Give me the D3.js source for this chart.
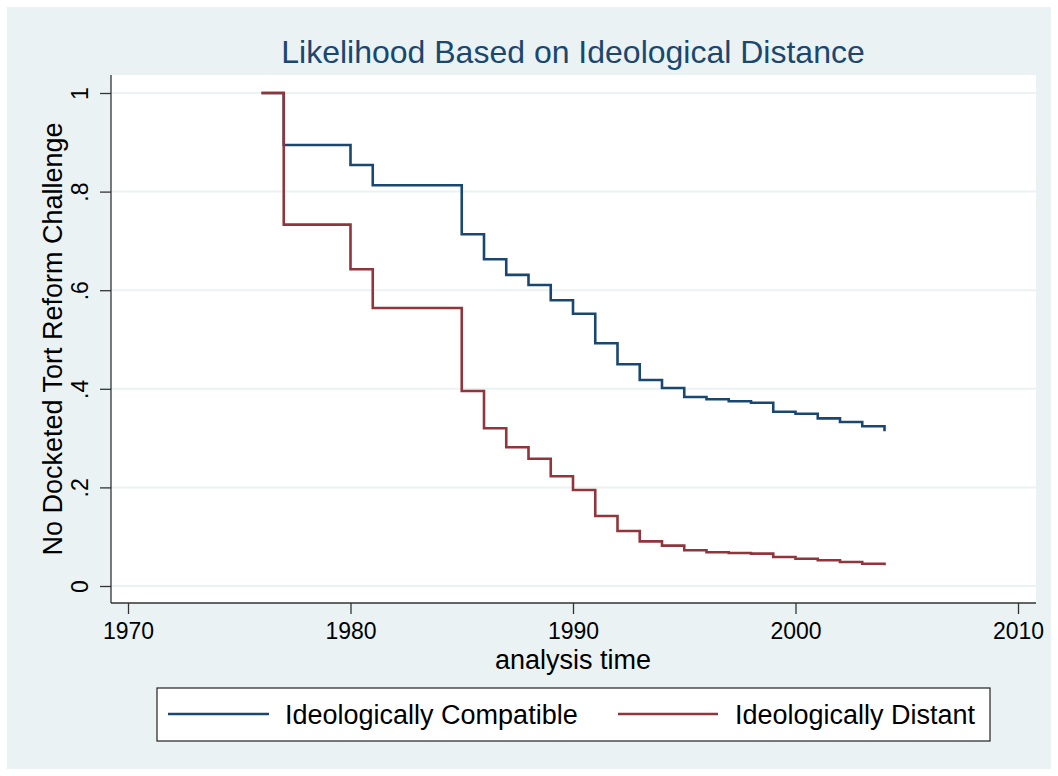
<!DOCTYPE html>
<html><head><meta charset="utf-8">
<script src="https://cdn.jsdelivr.net/npm/d3@7"></script>
<style>body{margin:0;background:#fff}svg{display:block;font-family:"Liberation Sans",Arial,sans-serif}</style>
</head><body><svg id="c" width="1058" height="776"></svg>
<script>
const years = [1976,1977,1980,1981,1985,1986,1987,1988,1989,1990,1991,1992,1993,1994,1995,1996,1997,1998,1999,2000,2001,2002,2003,2004];
const compatible = [1,0.8945,0.854,0.8128,0.7134,0.6627,0.631,0.6105,0.5795,0.5523,0.4923,0.4497,0.4178,0.4016,0.3834,0.3787,0.3746,0.3718,0.3536,0.3495,0.340,0.3327,0.324,0.3138];
const distant = [1,0.733,0.6424,0.564,0.3955,0.3199,0.2813,0.258,0.2225,0.1947,0.142,0.1116,0.0906,0.0818,0.0724,0.0684,0.0669,0.0656,0.0588,0.0554,0.0521,0.0487,0.0452,0.042];
const xTicks = [1970,1980,1990,2000,2010];
const yTicks = [0,0.2,0.4,0.6,0.8,1];
const yTickLabels = ["0",".2",".4",".6",".8","1"];
const seriesNames = ["Ideologically Compatible","Ideologically Distant"];
const colors = ["#1a476f","#90353b"];

const svg = d3.select("#c");
svg.append("rect").attr("x",7).attr("y",7).attr("width",1044).attr("height",762).attr("fill","#eaf2f3");
const plot = {l:111,t:75,r:1036,b:603};
svg.append("rect").attr("x",plot.l).attr("y",plot.t).attr("width",plot.r-plot.l).attr("height",plot.b-plot.t).attr("fill","#fff");

const x = d3.scaleLinear().domain([1970,2010]).range([128,1018]);
const y = d3.scaleLinear().domain([0,1]).range([586,93]);

svg.append("g").selectAll("line").data(yTicks).join("line")
  .attr("x1",plot.l).attr("x2",plot.r).attr("y1",d=>y(d)).attr("y2",d=>y(d))
  .attr("stroke","#eaf2f3").attr("stroke-width",2);

const line = d3.line().x(d=>x(d[0])).y(d=>y(d[1])).curve(d3.curveStepAfter);
[compatible,distant].forEach((s,i)=>{
  svg.append("path").datum(years.map((yr,j)=>[yr,s[j]]))
    .attr("d",line).attr("fill","none").attr("stroke",colors[i]).attr("stroke-width",2.6);
});

const yAxis = d3.axisLeft(y).tickValues(yTicks).tickSize(11).tickPadding(8).tickFormat((d,i)=>yTickLabels[i]);
const gy = svg.append("g").attr("transform",`translate(${plot.l},0)`).call(yAxis);
gy.select(".domain").attr("d",`M0,${plot.t}V${plot.b}`).attr("stroke","#333").attr("stroke-width",1.3);
gy.selectAll(".tick line").attr("stroke","#333").attr("stroke-width",1.3);
gy.selectAll(".tick text").attr("font-size",23).attr("fill","#000")
  .attr("text-anchor","middle").attr("dy","0")
  .attr("transform","translate(-31,0) rotate(-90)").attr("x",0).attr("y",8);

const xAxis = d3.axisBottom(x).tickValues(xTicks).tickSize(11).tickPadding(8).tickFormat(d3.format("d"));
const gx = svg.append("g").attr("transform",`translate(0,${plot.b})`).call(xAxis);
gx.select(".domain").attr("d",`M${plot.l},0H${plot.r}`).attr("stroke","#333").attr("stroke-width",1.3);
gx.selectAll(".tick line").attr("stroke","#333").attr("stroke-width",1.3);
gx.selectAll(".tick text").attr("font-size",23).attr("fill","#000").attr("y",20);

svg.append("text").attr("x",573).attr("y",63).attr("text-anchor","middle").attr("font-size",32)
  .attr("fill","#1a476f").text("Likelihood Based on Ideological Distance");
svg.append("text").attr("x",573).attr("y",669).attr("text-anchor","middle").attr("font-size",27)
  .attr("fill","#000").text("analysis time");
svg.append("text").attr("transform","translate(62,339) rotate(-90)").attr("text-anchor","middle")
  .attr("font-size",27).attr("fill","#000").text("No Docketed Tort Reform Challenge");

svg.append("rect").attr("x",157).attr("y",688).attr("width",833).attr("height",53)
  .attr("fill","#fff").attr("stroke","#222").attr("stroke-width",1.2);
const legX = [[168,269,285],[618,718,735]];
seriesNames.forEach((n,i)=>{
  svg.append("line").attr("x1",legX[i][0]).attr("x2",legX[i][1]).attr("y1",714).attr("y2",714)
    .attr("stroke",colors[i]).attr("stroke-width",2.6);
  svg.append("text").attr("x",legX[i][2]).attr("y",724).attr("font-size",27).attr("fill","#000").text(n);
});
</script></body></html>
